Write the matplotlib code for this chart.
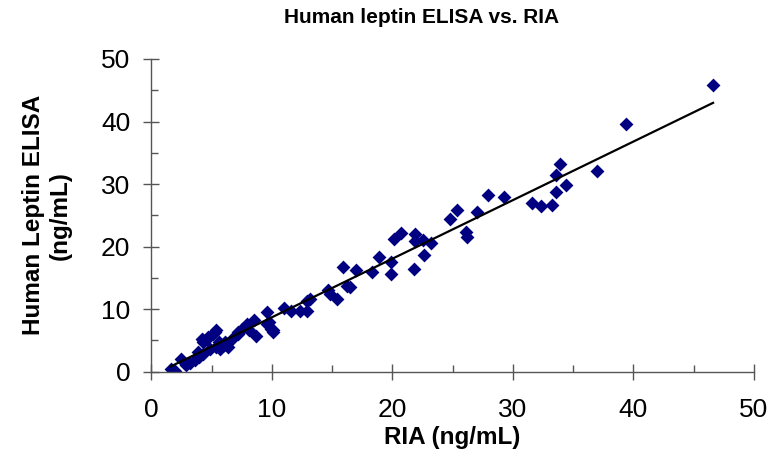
"""Human leptin ELISA vs. RIA scatter with linear trendline."""

from __future__ import annotations

import matplotlib

matplotlib.use("Agg")
import matplotlib.pyplot as plt
import numpy as np
from matplotlib.ticker import MultipleLocator

# RIA (ng/mL) and matching ELISA (ng/mL) readings
ria = [
    46.6, 39.4, 37.0, 33.9, 33.6, 34.4, 33.6, 29.3, 27.9, 31.6,
    32.3, 33.2, 25.4, 24.8, 27.0, 26.1, 26.2, 20.7, 20.1, 21.9,
    21.9, 22.5, 23.2, 22.6, 21.8, 18.9, 19.9, 19.9, 18.3, 15.9,
    17.0, 16.2, 16.5, 14.7, 14.8, 15.4, 12.9, 13.2, 12.9, 12.3,
    11.6, 11.0, 9.6, 9.8, 9.6, 10.1, 8.5, 8.7, 7.9, 7.5,
    7.2, 5.3, 4.7, 4.3, 6.7, 6.0, 5.4, 5.7, 6.4, 6.1,
    4.3, 4.9, 4.3, 3.9, 4.0, 3.6, 3.2, 2.9, 2.5, 2.0,
    1.6, 9.9, 8.1, 5.4, 5.1, 4.6, 4.2, 5.6, 7.2, 10.1,
]
elisa = [
    45.8, 39.6, 32.1, 33.2, 31.5, 29.9, 28.7, 28.0, 28.2, 27.0,
    26.5, 26.6, 25.9, 24.4, 25.6, 22.3, 21.5, 22.1, 21.2, 22.0,
    20.9, 21.0, 20.5, 18.7, 16.4, 18.4, 17.6, 15.7, 16.0, 16.7,
    16.2, 13.7, 13.6, 13.1, 12.5, 11.6, 11.3, 11.7, 9.7, 9.7,
    9.7, 10.2, 9.6, 8.0, 7.6, 6.7, 8.3, 5.7, 7.7, 6.9,
    6.4, 6.4, 5.6, 4.8, 5.3, 4.3, 4.0, 3.7, 4.0, 4.8,
    5.1, 3.7, 2.9, 3.2, 2.4, 1.9, 1.4, 1.1, 2.0, 0.1,
    0.5, 6.9, 6.7, 6.7, 6.1, 5.3, 5.3, 4.8, 6.1, 6.4,
]

title = "Human leptin ELISA vs. RIA"
x_label = "RIA (ng/mL)"
y_label = "Human Leptin ELISA\n(ng/mL)"


def render() -> None:
    """Draw scatter plus least-squares line and save out.png."""
    plt.rcParams["font.family"] = ["Liberation Sans", "DejaVu Sans"]
    x = np.asarray(ria)
    y = np.asarray(elisa)

    fig = plt.figure(figsize=(7.71, 4.63), dpi=100)
    ax = fig.add_axes([0.1962, 0.1972, 0.978 - 0.1962, 0.8726 - 0.1972])

    ax.scatter(x, y, marker="D", s=50, color="#000080", linewidths=0, zorder=3)

    slope, intercept = np.polyfit(x, y, 1)
    xs = np.array([x.min(), x.max()])
    ax.plot(xs, slope * xs + intercept, color="black", lw=1.6, zorder=4)

    ax.set_xlim(0, 50)
    ax.set_ylim(0, 50)
    ax.xaxis.set_major_locator(MultipleLocator(10))
    ax.xaxis.set_minor_locator(MultipleLocator(5))
    ax.yaxis.set_major_locator(MultipleLocator(10))
    ax.yaxis.set_minor_locator(MultipleLocator(5))
    ax.tick_params(which="major", direction="inout", length=12, width=1,
                   color="#555555", labelsize=19)
    ax.tick_params(axis="y", which="major", pad=9)
    ax.tick_params(axis="x", which="major", pad=13)
    ax.tick_params(which="minor", direction="in", length=5, width=1,
                   color="#555555")
    for side in ("top", "right"):
        ax.spines[side].set_visible(False)
    for side in ("left", "bottom"):
        ax.spines[side].set_color("#555555")
        ax.spines[side].set_linewidth(1)
        ax.spines[side].set_zorder(5)

    ax.set_xlabel(x_label, fontsize=17.5, fontweight="bold", labelpad=3)
    ax.set_ylabel(y_label, fontsize=17.5, fontweight="bold", labelpad=21)
    fig.text(0.547, 0.963, title, ha="center", va="center",
             fontsize=15, fontweight="bold")

    fig.savefig("out.png", dpi=100)
    plt.close(fig)


if __name__ == "__main__":
    render()
